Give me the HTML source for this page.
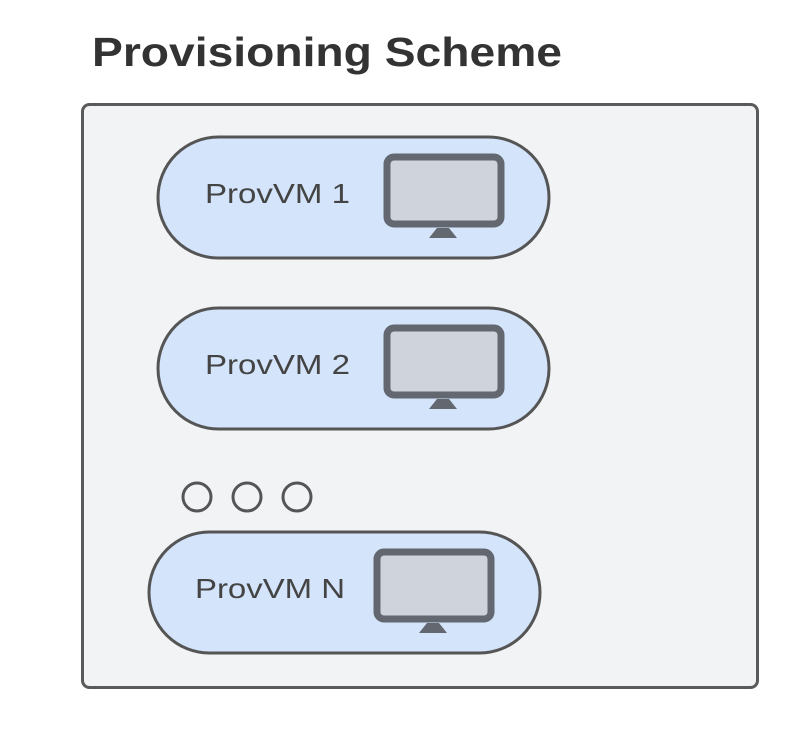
<!DOCTYPE html>
<html><head><meta charset="utf-8"><style>html,body{margin:0;padding:0;background:#fff}</style></head>
<body>
<svg width="800" height="724" viewBox="0 0 800 724" xmlns="http://www.w3.org/2000/svg" font-family="Liberation Sans, Arial, sans-serif">
<text x="92" y="66" font-size="41" font-weight="bold" fill="#333" textLength="470" lengthAdjust="spacingAndGlyphs">Provisioning Scheme</text>
<rect x="82.5" y="104.5" width="675" height="583" rx="7" fill="#f2f3f5" stroke="#5a5a5a" stroke-width="3"/>
<g>
<rect x="158" y="137" width="391" height="121" rx="60.5" fill="#d3e4fb" stroke="#555" stroke-width="3"/>
<text x="205" y="203" font-size="28" fill="#444" textLength="145" lengthAdjust="spacingAndGlyphs">ProvVM 1</text>
<rect x="387" y="157" width="114" height="67" rx="7" fill="#cfd3db" stroke="#63676f" stroke-width="7"/>
<path d="M429 238 L437 228 L449 228 L457 238 Z" fill="#63676f"/>
</g>
<g>
<rect x="158" y="308" width="391" height="121" rx="60.5" fill="#d3e4fb" stroke="#555" stroke-width="3"/>
<text x="205" y="374" font-size="28" fill="#444" textLength="145" lengthAdjust="spacingAndGlyphs">ProvVM 2</text>
<rect x="387" y="328" width="114" height="67" rx="7" fill="#cfd3db" stroke="#63676f" stroke-width="7"/>
<path d="M429 409 L437 399 L449 399 L457 409 Z" fill="#63676f"/>
</g>
<circle cx="197" cy="497" r="14" fill="none" stroke="#555" stroke-width="3"/>
<circle cx="247" cy="497" r="14" fill="none" stroke="#555" stroke-width="3"/>
<circle cx="297" cy="497" r="14" fill="none" stroke="#555" stroke-width="3"/>
<g>
<rect x="149" y="532" width="391" height="121" rx="60.5" fill="#d3e4fb" stroke="#555" stroke-width="3"/>
<text x="195" y="598" font-size="28" fill="#444" textLength="150" lengthAdjust="spacingAndGlyphs">ProvVM N</text>
<rect x="377" y="552" width="114" height="67" rx="7" fill="#cfd3db" stroke="#63676f" stroke-width="7"/>
<path d="M419 633 L427 623 L439 623 L447 633 Z" fill="#63676f"/>
</g>
</svg>
</body></html>
